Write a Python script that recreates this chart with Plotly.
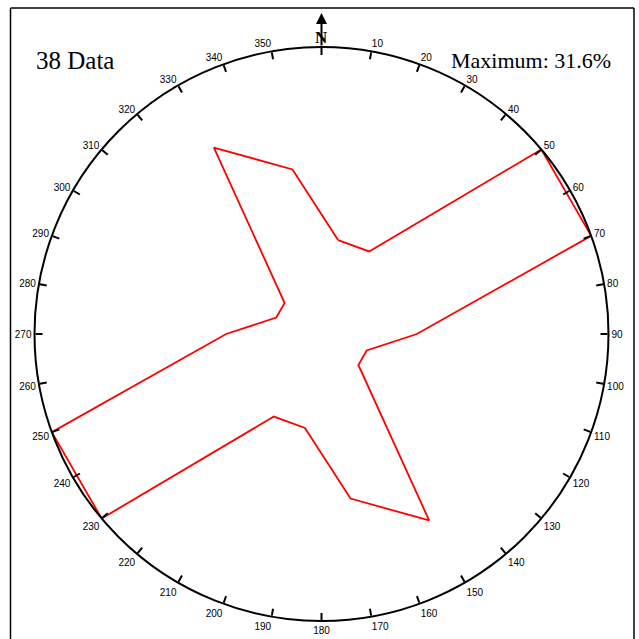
import plotly.graph_objects as go

# Rose diagram: 20-degree bins, bidirectional data (each bin mirrored at +180)
bin_centres = [10, 30, 50, 70, 90, 110, 130, 150, 170,
               190, 210, 230, 250, 270, 290, 310, 330, 350]
percent = [10.5, 10.5, 31.6, 31.6, 10.5, 5.3, 5.3, 23.7, 18.4,
           10.5, 10.5, 31.6, 31.6, 10.5, 5.3, 5.3, 23.7, 18.4]
max_percent = 31.6
n_data = 38

tick_vals = list(range(0, 360, 10))
tick_text = [""] + [str(v) for v in tick_vals[1:]]

W = H = 639
cx, cy, R = 321.5, 334.0, 287.0  # polar centre and radius in pixels

def px(x):
    return x / W

def py(y):
    return 1 - y / H

theta = bin_centres + bin_centres[:1]
r = percent + percent[:1]

fig = go.Figure()
fig.add_trace(go.Scatterpolar(
    r=r, theta=theta, mode="lines",
    line=dict(color="#ff0000", width=1.8),
    hoverinfo="skip", showlegend=False,
))

fig.update_layout(
    width=W, height=H,
    margin=dict(l=0, r=0, t=0, b=0),
    paper_bgcolor="white",
    plot_bgcolor="white",
    showlegend=False,
    polar=dict(
        domain=dict(x=[px(cx - R), px(cx + R)], y=[py(cy + R), py(cy - R)]),
        bgcolor="white",
        radialaxis=dict(range=[0, max_percent], visible=False,
                        showgrid=False, showline=False, showticklabels=False),
        angularaxis=dict(
            direction="clockwise", rotation=90,
            tickmode="array", tickvals=tick_vals, ticktext=tick_text,
            ticks="inside", ticklen=7, tickwidth=1.5, tickcolor="black",
            showline=True, linecolor="black", linewidth=2,
            showgrid=False,
            tickfont=dict(family="Liberation Sans", size=10, color="black"),
        ),
    ),
    shapes=[
        # frame around the diagram (open at the bottom edge)
        dict(type="line", xref="paper", yref="paper",
             x0=px(10.5), x1=px(10.5), y0=py(8), y1=py(645),
             line=dict(color="black", width=1.5)),
        dict(type="line", xref="paper", yref="paper",
             x0=px(634), x1=px(634), y0=py(8), y1=py(645),
             line=dict(color="black", width=1.5)),
        dict(type="line", xref="paper", yref="paper",
             x0=px(10.5), x1=px(634), y0=py(8), y1=py(8),
             line=dict(color="black", width=1.5)),
    ],
    annotations=[
        # north arrow
        dict(x=px(cx), y=py(13), xref="paper", yref="paper",
             ax=0, ay=34, axref="pixel", ayref="pixel",
             text="", showarrow=True, arrowhead=2, arrowsize=1.1,
             arrowwidth=2, arrowcolor="black"),
        dict(x=px(cx), y=py(38), xref="paper", yref="paper",
             text="<b>N</b>", showarrow=False,
             font=dict(family="Liberation Serif", size=17, color="black"),
             xanchor="center", yanchor="middle"),
        dict(x=px(34), y=py(60), xref="paper", yref="paper",
             text=f"{n_data} Data", showarrow=False,
             font=dict(family="Liberation Serif", size=25, color="black"),
             xanchor="left", yanchor="middle"),
        dict(x=px(613), y=py(60), xref="paper", yref="paper",
             text=f"Maximum: {max_percent}%", showarrow=False,
             font=dict(family="Liberation Serif", size=22, color="black"),
             xanchor="right", yanchor="middle"),
    ],
)

fig.write_html("out.html")
